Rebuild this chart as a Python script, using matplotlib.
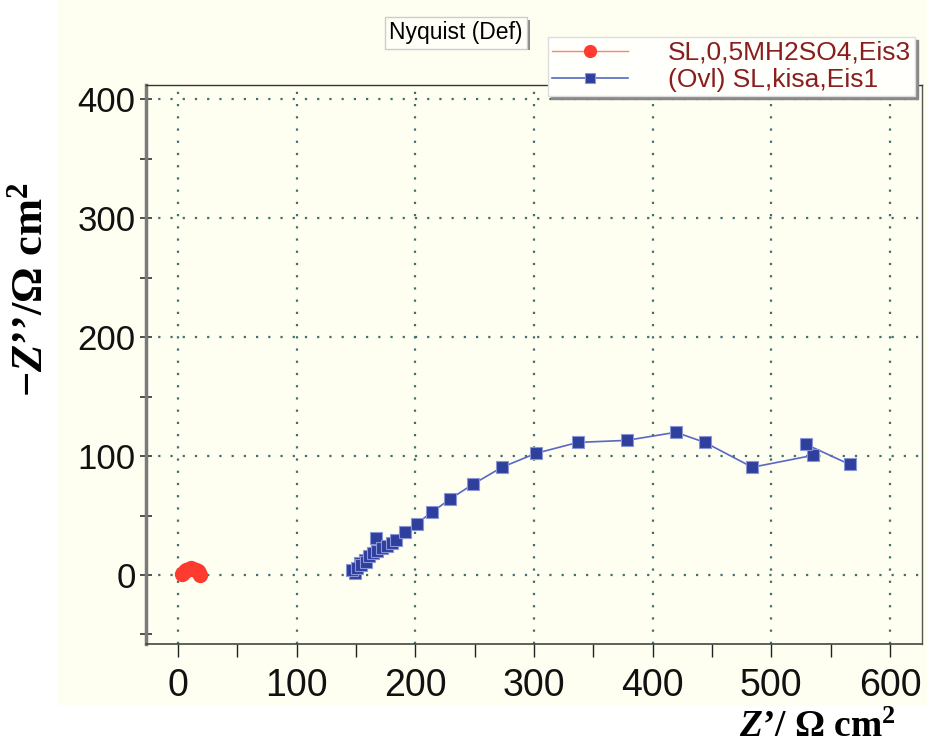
import matplotlib
matplotlib.use("Agg")
import matplotlib.pyplot as plt
from matplotlib.patches import Rectangle
from matplotlib.ticker import MultipleLocator

# ---- data ----
red_label = "SL,0,5MH2SO4,Eis3"
red_x = [3, 4, 5.5, 7, 9, 11, 13, 15, 16.5, 17.5, 18.5]
red_y = [0.5, 2, 3.5, 4.5, 5.2, 5.5, 5.2, 4.3, 3.0, 1.5, 0.2]

blue_label = "(Ovl) SL,kisa,Eis1"
blue_x = [166.8, 157.5, 153.3, 149.0, 146.3, 150.5, 154.5, 158.5, 161.2, 164.5, 168.0, 171.6,
          176.0, 180.0, 184.0, 191.0, 201.0, 214.0, 229.0, 248.5, 273.0, 301.6, 337.0,
          378.0, 419.5, 444.0, 484.0, 535.0, 529.0, 566.0]
blue_y = [30.8, 12.6, 9.8, 1.5, 4.2, 6.0, 8.5, 11.0, 15.9, 18.2, 20.4, 22.4,
          24.5, 26.6, 29.3, 36.3, 43.3, 52.8, 63.7, 76.3, 90.6, 102.3, 111.5,
          113.2, 120.0, 111.5, 90.6, 100.6, 110.0, 93.0]

x_ticks = [0, 100, 200, 300, 400, 500, 600]
y_ticks = [0, 100, 200, 300, 400]

cream = "#FEFEF1"

plt.rcParams["mathtext.fontset"] = "custom"
plt.rcParams["mathtext.rm"] = "Liberation Serif:bold"
plt.rcParams["mathtext.it"] = "Liberation Serif:bold:italic"
plt.rcParams["mathtext.bf"] = "Liberation Serif:bold"

fig = plt.figure(figsize=(9.28, 7.44), dpi=100)
fig.patch.set_facecolor("white")
fig.patches.append(Rectangle((58 / 928, 1 - 706 / 744), 1 - 58 / 928, 706 / 744,
                             transform=fig.transFigure, facecolor=cream,
                             edgecolor="none", zorder=-10))

ax = fig.add_axes([146 / 928, 1 - 644 / 744, (922 - 146) / 928, (644 - 85) / 744])
ax.set_facecolor(cream)

ax.plot(red_x, red_y, color="#FF8070", lw=1.0, marker="o", ms=10,
        mfc="#FF3B30", mec="#FF3B30", label=red_label, zorder=3)
ax.plot(blue_x, blue_y, color="#5868C4", lw=1.2, marker="s", ms=8.5,
        mfc="#2E3F9C", mec="#8A96D6", mew=0.8, label=blue_label, zorder=3)

ax.set_xlim(-27, 627)
ax.set_ylim(-58, 412)
ax.set_xticks(x_ticks)
ax.set_yticks(y_ticks)
ax.xaxis.set_minor_locator(MultipleLocator(50))
ax.yaxis.set_minor_locator(MultipleLocator(50))

ax.grid(True, which="major", color="#3F6F6F", linestyle=(0, (1, 4.5)), lw=1.6)

ax.tick_params(axis="y", which="both", direction="inout", length=9, width=1.2,
               color="#333333", pad=3)
ax.tick_params(axis="x", which="both", direction="out", length=9, width=1.0,
               color="#222222", pad=8)
for lab in ax.get_yticklabels():
    lab.set_fontfamily("Liberation Sans")
    lab.set_fontsize(25)
    lab.set_color("#111111")
for lab in ax.get_xticklabels():
    lab.set_fontfamily("Liberation Sans")
    lab.set_fontsize(27)
    lab.set_color("#111111")

ax.spines["left"].set_color("#7A7A7A")
ax.spines["left"].set_linewidth(2.5)
ax.spines["bottom"].set_color("#444444")
ax.spines["bottom"].set_linewidth(1.2)
ax.spines["top"].set_color("#333333")
ax.spines["top"].set_linewidth(1.0)
ax.spines["right"].set_color("#555555")
ax.spines["right"].set_linewidth(1.0)

# axis labels
fig.text(31 / 928, 1 - 290 / 744, "\u2212$Z$\u2019\u2019/\u03a9 cm$^{2}$", rotation=90,
         ha="center", va="center", family="Liberation Serif", weight="bold",
         size=32, color="black")
fig.text(896 / 928, 1 - 737 / 744, "$Z$\u2019/ \u03a9 cm$^{2}$",
         ha="right", va="baseline", family="Liberation Serif", weight="bold",
         size=27, color="black")

# title box
fig.text(456 / 928, 1 - 33 / 744, "Nyquist (Def)", ha="center", va="center",
         family="Liberation Sans", size=16.5, color="black",
         bbox=dict(boxstyle="square,pad=0.2", facecolor="#FFFFF8",
                   edgecolor="#CCCCCC", lw=1.0))
fig.patches.append(Rectangle((388 / 928, 1 - 50 / 744), 142 / 928, 3 / 744,
                             transform=fig.transFigure, facecolor="#888888",
                             edgecolor="none", zorder=-1))
fig.patches.append(Rectangle((527 / 928, 1 - 50 / 744), 3 / 928, 30 / 744,
                             transform=fig.transFigure, facecolor="#888888",
                             edgecolor="none", zorder=-1))

leg = ax.legend(loc="upper left", bbox_to_anchor=(548 / 928, 1 - 37 / 744),
                bbox_transform=fig.transFigure, borderaxespad=0,
                borderpad=0.15, handlelength=2.9, handletextpad=1.5,
                labelspacing=0.12, frameon=True, fancybox=False,
                prop=dict(family="Liberation Sans", size=19),
                labelcolor="#8A1E1E", markerscale=0.85,
                shadow=dict(color="#888888", alpha=1.0))
leg.get_frame().set_facecolor("#FFFFFB")
leg.get_frame().set_edgecolor("#DDDDDD")
leg.get_frame().set_alpha(1.0)
leg.set_zorder(10)

fig.savefig("out.png", dpi=100, facecolor="white")
